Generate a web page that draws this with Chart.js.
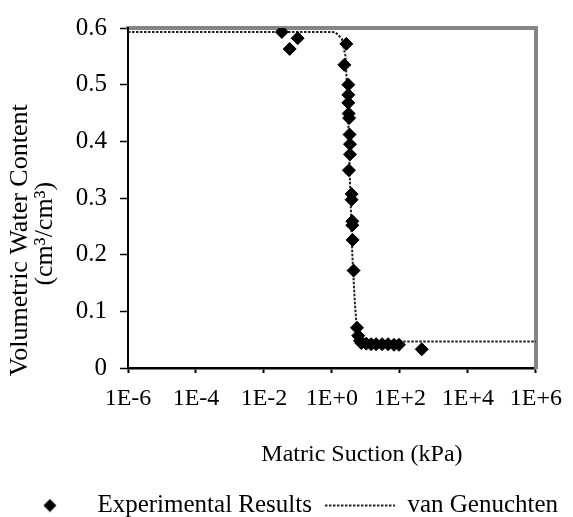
<!DOCTYPE html>
<html><head><meta charset="utf-8">
<script src="https://cdn.jsdelivr.net/npm/chart.js@4.4.1/dist/chart.umd.min.js"></script>
<style>html,body{margin:0;padding:0;background:#fff}canvas{display:block}</style>
</head><body>
<canvas id="c" width="573" height="517"></canvas>
<script>
// Experimental results: matric suction (kPa) and volumetric water content
const expSuction = [0.0336, 0.057, 0.098, 2.32, 2.65, 3.03, 3.03, 3.03, 3.1, 3.2, 3.3, 3.39, 3.39, 3.16, 3.78, 3.78, 3.97, 3.97, 4.05, 4.33, 5.45, 5.94, 6.66, 7.3, 10.2, 14.2, 19.9, 29.8, 44.7, 66.8, 93.5, 438];
const expTheta   = [0.593, 0.563, 0.582, 0.535, 0.572, 0.500, 0.482, 0.468, 0.449, 0.441, 0.412, 0.395, 0.377, 0.349, 0.307, 0.297, 0.259, 0.252, 0.226, 0.172, 0.071, 0.057, 0.048, 0.044, 0.043, 0.042, 0.042, 0.042, 0.042, 0.041, 0.041, 0.033];
// van Genuchten fitted curve
const vgSuction = [1e-6, 1e-2, 1, 1.29, 1.95, 2.51, 2.95, 3.39, 3.98, 4.47, 4.79, 5.13, 5.89, 7.08, 10, 31.6, 100, 1e6];
const vgTheta   = [0.593, 0.593, 0.593, 0.592, 0.581, 0.55, 0.46, 0.33, 0.20, 0.14, 0.11, 0.086, 0.063, 0.053, 0.049, 0.047, 0.0467, 0.0467];
// Axis ticks
const xTickValues = [1e-6, 1e-4, 1e-2, 1, 1e2, 1e4, 1e6];
const xTickLabels = ['1E-6', '1E-4', '1E-2', '1E+0', '1E+2', '1E+4', '1E+6'];
const yTickValues = [0, 0.1, 0.2, 0.3, 0.4, 0.5, 0.6];
const yTickLabels = ['0', '0.1', '0.2', '0.3', '0.4', '0.5', '0.6'];
const seriesNames = ['Experimental Results', 'van Genuchten'];
const xTitle = 'Matric Suction (kPa)';
const yTitle = ['Volumetric Water Content', '(cm\u00B3/cm\u00B3)'];

const SERIF = "'Liberation Serif', 'Times New Roman', serif";
Chart.defaults.font.family = SERIF;
Chart.defaults.color = '#000';

// small diamond icon for the legend entry
const diamondIcon = document.createElement('canvas');
diamondIcon.width = 14; diamondIcon.height = 14;
(function(){const g = diamondIcon.getContext('2d'); g.fillStyle = '#000'; g.beginPath();
 g.moveTo(7,0.5); g.lineTo(13.5,7); g.lineTo(7,13.5); g.lineTo(0.5,7); g.closePath(); g.fill();})();

const NB = '\u00A0';
new Chart(document.getElementById('c'), {
  type: 'scatter',
  data: {
    datasets: [
      {
        label: seriesNames[0],
        data: expSuction.map((x, i) => ({x: x, y: expTheta[i]})),
        pointStyle: 'rectRot',
        pointRadius: 6.5,
        pointBorderWidth: 1,
        pointBackgroundColor: '#000',
        pointBorderColor: '#000',
        order: 0
      },
      {
        label: seriesNames[1],
        data: vgSuction.map((x, i) => ({x: x, y: vgTheta[i]})),
        showLine: true,
        borderColor: '#222',
        backgroundColor: 'rgba(0,0,0,0)',
        borderWidth: 2,
        borderDash: [2.5, 1.5],
        pointRadius: 0,
        pointHoverRadius: 0,
        pointStyle: 'line',
        pointBorderColor: '#222',
        pointBorderWidth: 2,
        tension: 0,
        order: 1
      }
    ]
  },
  options: {
    responsive: false,
    animation: false,
    devicePixelRatio: 1,
    layout: { padding: { left: 0, right: 0, top: 0, bottom: -11 } },
    plugins: {
      tooltip: { enabled: false },
      legend: {
        position: 'bottom',
        labels: {
          font: { size: 25, family: SERIF },
          color: '#000',
          usePointStyle: true,
          pointStyleWidth: 70,
          boxHeight: 14,
          padding: 13,
          generateLabels(chart) {
            const items = Chart.defaults.plugins.legend.labels.generateLabels(chart);
            items[0].pointStyle = diamondIcon;
            items[1].pointStyle = 'line';
            items[1].lineDash = [2.5, 1.5];
            items[1].lineWidth = 2;
            items[1].strokeStyle = '#222';
            return items;
          }
        }
      }
    },
    scales: {
      x: {
        type: 'logarithmic',
        position: 'bottom',
        min: 1e-6, max: 1e6,
        afterBuildTicks(scale) { scale.ticks = xTickValues.map(v => ({value: v})); },
        afterFit(scale) { scale.height = 112; },
        ticks: {
          autoSkip: false, maxRotation: 0, minRotation: 0,
          padding: 11,
          font: { size: 24, family: SERIF },
          color: '#000',
          callback: (v, i) => xTickLabels[i]
        },
        grid: { drawOnChartArea: false, drawTicks: true, tickLength: 5, tickColor: '#000', tickWidth: 2 },
        border: { display: true, color: '#000', width: 2.5 },
        title: {
          display: true,
          text: NB.repeat(10) + xTitle,
          font: { size: 24, family: SERIF, lineHeight: 1.2 },
          color: '#000',
          padding: { top: 0, bottom: 11 }
        }
      },
      x2: {
        type: 'logarithmic',
        position: 'top',
        min: 1e-6, max: 1e6,
        afterFit(scale) { scale.height = 27; },
        ticks: { display: false },
        grid: { display: false },
        border: { display: true, color: '#858585', width: 4 }
      },
      y: {
        type: 'linear',
        position: 'left',
        min: 0, max: 0.6,
        afterBuildTicks(scale) { scale.ticks = yTickValues.map(v => ({value: v})); },
        afterFit(scale) { scale.width = 128; },
        ticks: {
          padding: 13,
          font: { size: 25, family: SERIF },
          color: '#000',
          callback: (v, i) => yTickLabels[i]
        },
        grid: { drawOnChartArea: false, drawTicks: true, tickLength: 8, tickColor: '#000', tickWidth: 1.5 },
        border: { display: true, color: '#000', width: 2 },
        title: {
          display: true,
          text: [yTitle[0] + NB.repeat(13), yTitle[1] + NB.repeat(11)],
          font: { size: 26, family: SERIF, lineHeight: 0.96 },
          color: '#000',
          padding: { top: 7.5, bottom: 0 }
        }
      },
      y2: {
        type: 'linear',
        position: 'right',
        min: 0, max: 0.6,
        afterFit(scale) { scale.width = 34; },
        ticks: { display: false },
        grid: { display: false },
        border: { display: true, color: '#858585', width: 4 }
      }
    }
  }
});
</script>
</body></html>
